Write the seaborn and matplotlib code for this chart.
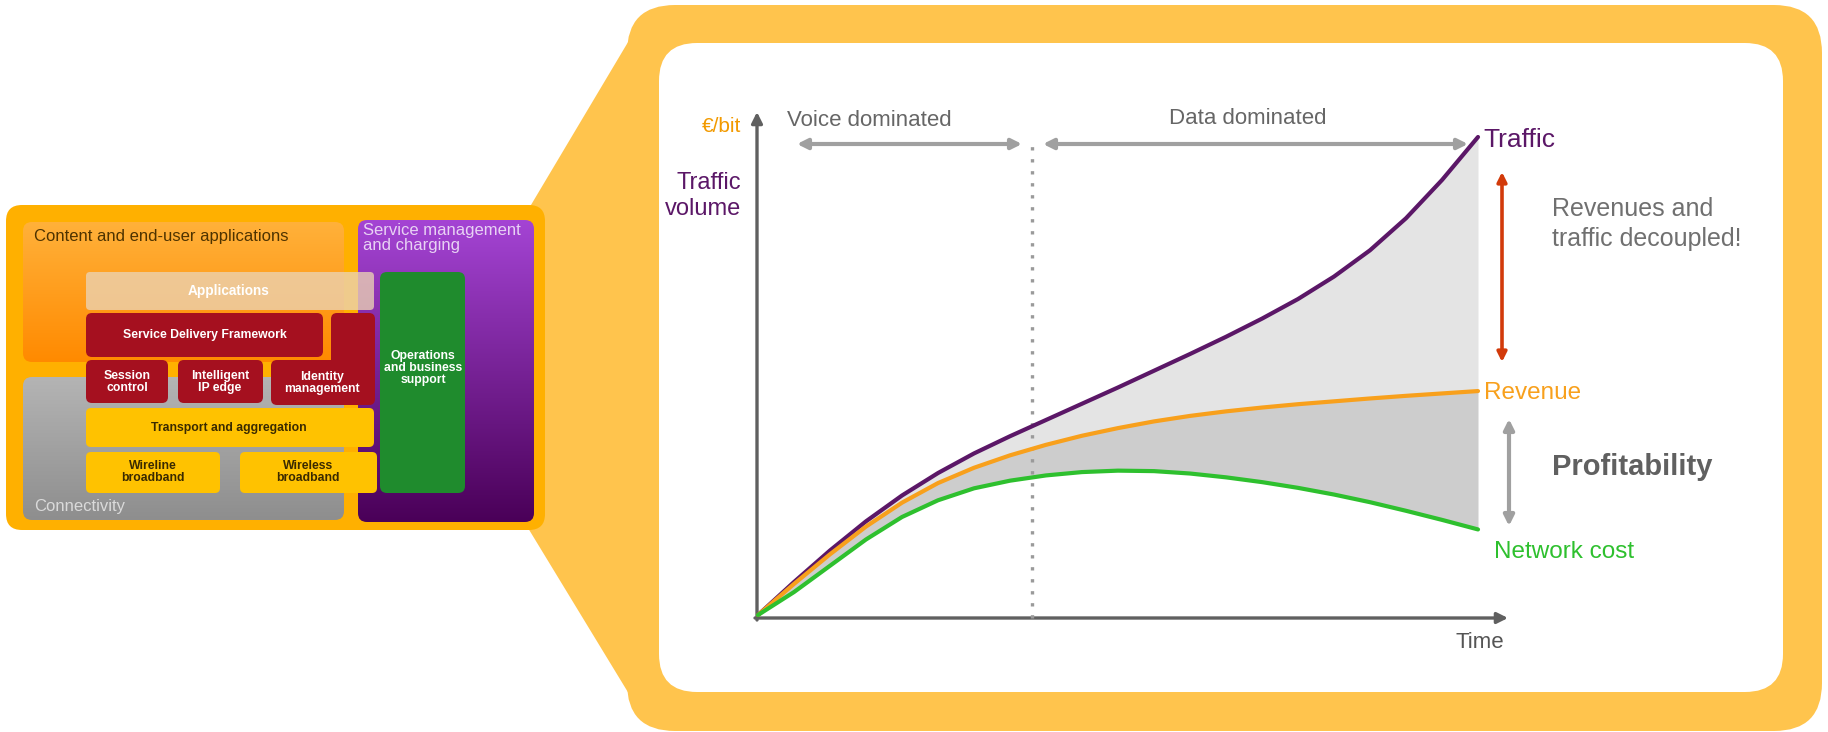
import numpy as np
import matplotlib
matplotlib.use("Agg")
import matplotlib.pyplot as plt
from matplotlib.patches import FancyBboxPatch, Polygon
from matplotlib.colors import LinearSegmentedColormap
import seaborn as sns
import pandas as pd

# ---- curve data (time in arbitrary units, value in arbitrary units) ----
time = [0, 5, 10, 15, 20, 25, 30, 35, 40, 45, 50,
        55, 60, 65, 70, 75, 80, 85, 90, 95, 100]
traffic = [0, 6.9, 13.5, 19.6, 25.0, 29.7, 33.8, 37.4, 40.8, 44.2, 47.6,
           51.1, 54.6, 58.2, 62.0, 66.1, 70.8, 76.3, 83.0, 91.0, 100]
revenue = [0, 6.5, 12.7, 18.5, 23.5, 27.6, 30.8, 33.4, 35.6, 37.5, 39.1,
           40.5, 41.65, 42.6, 43.4, 44.1, 44.7, 45.3, 45.85, 46.35, 46.85]
network_cost = [0, 4.8, 10.3, 15.8, 20.5, 24.0, 26.5, 28.1, 29.2, 29.9, 30.2,
                30.1, 29.6, 28.8, 27.8, 26.6, 25.2, 23.6, 21.8, 19.9, 17.9]
era_split = 38.0  # voice -> data transition

series_names = ["Traffic", "Revenue", "Network cost"]
series_colors = ["#5B1767", "#F8A01C", "#2EC02E"]

sns.set_theme(style="white")
plt.rcParams['font.family'] = ['Liberation Sans', 'DejaVu Sans']

W, H = 1828, 732
fig = plt.figure(figsize=(W / 100, H / 100), dpi=100)
fig.patch.set_facecolor("white")

# background canvas in pixel units
bg = fig.add_axes([0, 0, 1, 1])
bg.set_axis_off()


def rbox(x0, y0, x1, y1, r, fc, z, alpha=1.0, ec="none"):
    p = FancyBboxPatch((x0 + r, y0 + r), (x1 - x0) - 2 * r, (y1 - y0) - 2 * r,
                       boxstyle=f"round,pad={r},rounding_size={r}",
                       fc=fc, ec=ec, alpha=alpha, zorder=z, lw=0)
    bg.add_patch(p)
    return p


def grad_box(x0, y0, x1, y1, r, c_top, c_bot, z):
    p = rbox(x0, y0, x1, y1, r, "none", z)
    cmap = LinearSegmentedColormap.from_list("g", [c_top, c_bot])
    im = bg.imshow(np.linspace(0, 1, 256).reshape(-1, 1), cmap=cmap,
                   extent=(x0, x1, y1, y0), aspect="auto", zorder=z,
                   interpolation="bilinear")
    im.set_clip_path(p)


# ---- framing shapes ----
bg.add_patch(Polygon([(528, 210), (640, 22), (640, 712), (528, 528)],
                     closed=True, fc="#FFC44D", ec="none", zorder=1))
rbox(627, 5, 1822, 731, 48, "#FFC44D", 1)
rbox(659, 43, 1783, 692, 38, "white", 2)

# ---- architecture panel ----
rbox(6, 205, 545, 530, 16, "#FFB000", 3)
grad_box(23, 222, 344, 362, 9, "#FFB13A", "#FF8A00", 4)
grad_box(23, 377, 344, 520, 9, "#B4B4B4", "#8E8E8E", 4)
grad_box(358, 220, 534, 522, 9, "#A444D4", "#4A0058", 4)
rbox(380, 272, 465, 493, 7, "#1F8B2D", 5)
rbox(86, 272, 374, 310, 4, "#EBD3B4", 6, alpha=0.78)

dark_red = "#A5101F"
rbox(86, 313, 323, 357, 6, dark_red, 6)
rbox(331, 313, 375, 405, 6, dark_red, 6)
rbox(86, 360, 168, 403, 6, dark_red, 6)
rbox(178, 360, 263, 403, 6, dark_red, 6)
rbox(271, 360, 374, 405, 6, dark_red, 6)
yellow = "#FFC200"
rbox(86, 408, 374, 447, 5, yellow, 6)
rbox(86, 452, 220, 493, 5, yellow, 6)
rbox(240, 452, 377, 493, 5, yellow, 6)

bg.text(34, 236, "Content and end-user applications", fontsize=12,
        color="#4E3300", ha="left", va="center", zorder=8)
bg.text(363, 238, "Service management\nand charging", fontsize=12,
        color="#E8D2F4", ha="left", va="center", linespacing=0.95, zorder=8)
bg.text(34, 507, "Connectivity", fontsize=12, color="#DADADA",
        ha="left", va="center", zorder=8)

wb = dict(color="white", fontweight="bold", ha="center", va="center",
          zorder=8, linespacing=1.05)
bg.text(229, 291, "Applications", fontsize=9.8, **wb)
bg.text(205, 335, "Service Delivery Framework", fontsize=8.8, **wb)
bg.text(127, 382, "Session\ncontrol", fontsize=8.8, **wb)
bg.text(220, 382, "Intelligent\nIP edge", fontsize=8.8, **wb)
bg.text(322, 383, "Identity\nmanagement", fontsize=8.8, **wb)
bg.text(423, 368, "Operations\nand business\nsupport", fontsize=8.8, **wb)
db = dict(color="#3A2A00", fontweight="bold", ha="center", va="center",
          zorder=8, linespacing=1.05)
bg.text(229, 428, "Transport and aggregation", fontsize=8.8, **db)
bg.text(153, 472, "Wireline\nbroadband", fontsize=8.8, **db)
bg.text(308, 472, "Wireless\nbroadband", fontsize=8.8, **db)

# ---- chart decorations in pixel units ----
axis_col = "#606060"
bg.annotate("", xy=(757, 112), xytext=(757, 620),
            arrowprops=dict(arrowstyle="-|>", color=axis_col, lw=2.4,
                            mutation_scale=16, shrinkA=0, shrinkB=0), zorder=9)
bg.annotate("", xy=(1508, 618), xytext=(755, 618),
            arrowprops=dict(arrowstyle="-|>", color=axis_col, lw=2.4,
                            mutation_scale=16, shrinkA=0, shrinkB=0), zorder=9)

arr_grey = "#A0A0A0"
for xa, xb in [(797, 1022), (1043, 1468)]:
    bg.annotate("", xy=(xb, 144), xytext=(xa, 144),
                arrowprops=dict(arrowstyle="<|-|>", color=arr_grey, lw=3,
                                mutation_scale=15, shrinkA=0, shrinkB=0), zorder=9)
bg.annotate("", xy=(1502, 362), xytext=(1502, 172),
            arrowprops=dict(arrowstyle="<|-|>", color="#D23A0A", lw=2.6,
                            mutation_scale=14, shrinkA=0, shrinkB=0), zorder=9)
bg.annotate("", xy=(1509, 526), xytext=(1509, 419),
            arrowprops=dict(arrowstyle="<|-|>", color=arr_grey, lw=3,
                            mutation_scale=15, shrinkA=0, shrinkB=0), zorder=9)

txt_grey = "#666666"
bg.text(787, 120, "Voice dominated", fontsize=16, color=txt_grey,
        ha="left", va="center", zorder=9)
bg.text(1248, 119, "Data dominated", fontsize=16, color=txt_grey,
        ha="center", va="center", zorder=9)
bg.text(741, 126, "€/bit", fontsize=15, color="#F29A00",
        ha="right", va="center", zorder=9)
bg.text(741, 196, "Traffic\nvolume", fontsize=17, color="#5B1767",
        ha="right", va="center", linespacing=1.25, zorder=9)
bg.text(1504, 642, "Time", fontsize=16, color="#555555",
        ha="right", va="center", zorder=9)
bg.text(1552, 224, "Revenues and\ntraffic decoupled!", fontsize=18,
        color="#707070", ha="left", va="center", linespacing=1.3, zorder=9)
bg.text(1552, 467, "Profitability", fontsize=21, color="#606060",
        fontweight="bold", ha="left", va="center", zorder=9)

bg.set_xlim(0, W)
bg.set_ylim(H, 0)

# ---- data chart, aligned to the drawn axes ----
px0, py0 = 758.0, 615.0      # pixel of origin
sx, sy = 7.2, 4.78           # pixels per unit
L, R, T, B = 700, 1560, 100, 640
ax = fig.add_axes([L / W, 1 - B / H, (R - L) / W, (B - T) / H])
ax.set_xlim((L - px0) / sx, (R - px0) / sx)
ax.set_ylim((py0 - B) / sy, (py0 - T) / sy)
ax.patch.set_alpha(0)
ax.set_axis_off()

df = pd.DataFrame({"time": time, "Traffic": traffic, "Revenue": revenue,
                   "Network cost": network_cost})

ax.fill_between(df["time"], df["Revenue"], df["Traffic"],
                color="#E4E4E4", lw=0, zorder=1)
ax.fill_between(df["time"], df["Network cost"], df["Revenue"],
                color="#CDCDCD", lw=0, zorder=1)
ax.axvline(era_split, ymin=0.041, ymax=0.915, color="#9A9A9A", lw=2.4,
           ls=(0, (1, 2.6)), zorder=2)

long = df.melt(id_vars="time", var_name="series", value_name="value")
sns.lineplot(data=long, x="time", y="value", hue="series",
             hue_order=series_names, palette=series_colors,
             linewidth=3, legend=False, ax=ax, zorder=4)
for ln in ax.get_lines():
    ln.set_solid_joinstyle("round")
    ln.set_solid_capstyle("round")
ax.set_xlabel("")
ax.set_ylabel("")
ax.set_axis_off()

label_pos = {"Traffic": (100.8, 99.4), "Revenue": (100.8, 46.5),
             "Network cost": (102.2, 13.2)}
label_size = {"Traffic": 19, "Revenue": 17.5, "Network cost": 17.5}
for name, col in zip(series_names, series_colors):
    x, y = label_pos[name]
    ax.text(x, y, name, color=col, fontsize=label_size[name],
            ha="left", va="center", zorder=5)

fig.savefig("out.png", dpi=100, facecolor="white")
